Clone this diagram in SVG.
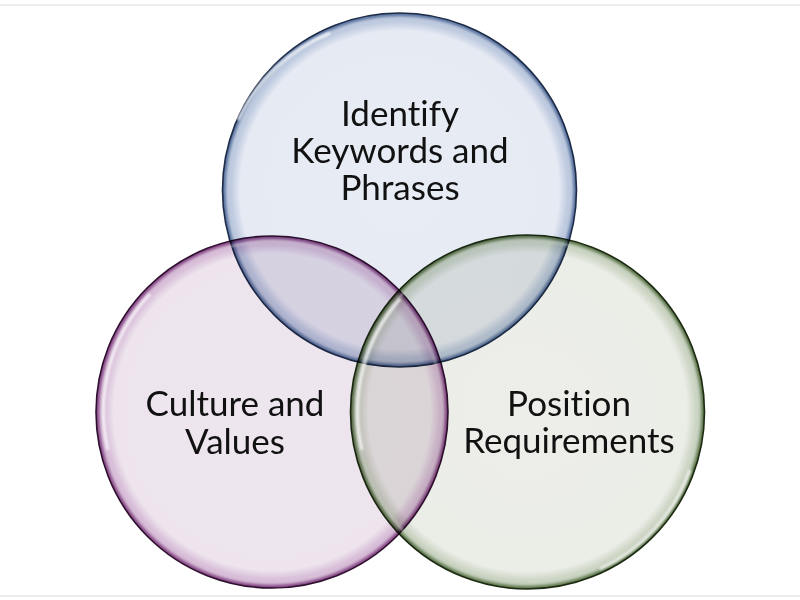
<svg xmlns="http://www.w3.org/2000/svg" width="800" height="600" viewBox="0 0 800 600">
<defs>
<style>
.lbl{font-family:Lato,"Open Sans","Liberation Sans",sans-serif;font-size:35px;fill:#111;text-anchor:middle;font-variant-ligatures:none}
.c{mix-blend-mode:multiply;stroke-width:1.6}
.hl{fill:none;stroke:#fff;stroke-width:3;opacity:0.75;filter:url(#blur)}
.ring{fill:none;stroke:#fff;stroke-width:2;opacity:0.45;filter:url(#blur)}
</style>
<filter id="blur" x="-10%" y="-10%" width="120%" height="120%"><feGaussianBlur stdDeviation="1.2"/></filter>
<radialGradient id="gBlue" cx="0.5" cy="0.5" r="0.5">
<stop offset="0" stop-color="#e8ecf4"/>
<stop offset="0.9" stop-color="#e6eaf3"/>
<stop offset="0.96" stop-color="#b9c6dd"/>
<stop offset="1" stop-color="#4d6898"/>
</radialGradient>
<radialGradient id="gPurple" cx="0.5" cy="0.5" r="0.5">
<stop offset="0" stop-color="#eee6ee"/>
<stop offset="0.9" stop-color="#ede4ed"/>
<stop offset="0.96" stop-color="#d6b9d6"/>
<stop offset="1" stop-color="#7d3a7d"/>
</radialGradient>
<radialGradient id="gGreen" cx="0.5" cy="0.5" r="0.5">
<stop offset="0" stop-color="#edeee9"/>
<stop offset="0.9" stop-color="#ebede7"/>
<stop offset="0.96" stop-color="#c8d2bf"/>
<stop offset="1" stop-color="#4f6b3c"/>
</radialGradient>
</defs>
<rect width="800" height="600" fill="#fff"/>
<line x1="0" y1="5" x2="800" y2="5" stroke="#e6e6e6" stroke-width="1.5"/>
<line x1="0" y1="596" x2="800" y2="596" stroke="#e6e6e6" stroke-width="1.5"/>
<g id="connectors"></g>
<g id="node-keywords">
<circle class="c" cx="399.5" cy="190" r="177" fill="url(#gBlue)" stroke="#1e2c48"/>
<circle class="ring" cx="399.5" cy="190" r="172"/>
<path class="hl" d="M238,120 A171,171 0 0 1 330,33"/>
</g>
<g id="node-culture">
<circle class="c" cx="272" cy="412" r="176" fill="url(#gPurple)" stroke="#2e0f2e"/>
<circle class="ring" cx="272" cy="412" r="171"/>
<path class="hl" d="M108,450 A170,170 0 0 1 150,294"/>
</g>
<g id="node-position">
<circle class="c" cx="527.5" cy="412" r="177" fill="url(#gGreen)" stroke="#1d2b13"/>
<circle class="ring" cx="527.5" cy="412" r="172"/>
<path class="hl" d="M362,450 A171,171 0 0 1 400,299"/>
<path class="hl" d="M690,470 A171,171 0 0 1 600,569"/>
</g>
<text class="lbl" x="400" y="126">Identify</text>
<text class="lbl" x="400" y="163">Keywords and</text>
<text class="lbl" x="400" y="200">Phrases</text>
<text class="lbl" x="235" y="416">Culture and</text>
<text class="lbl" x="235" y="454">Values</text>
<text class="lbl" x="569" y="416">Position</text>
<text class="lbl" x="569" y="453">Requirements</text>
</svg>
